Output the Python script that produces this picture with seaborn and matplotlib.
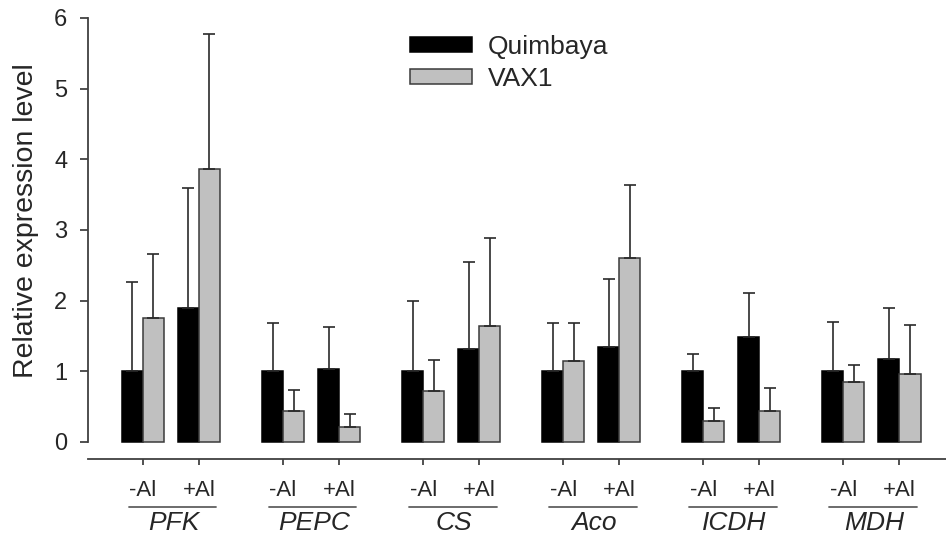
import numpy as np
import pandas as pd
import matplotlib
matplotlib.use("Agg")
import matplotlib.pyplot as plt
import seaborn as sns
from matplotlib.patches import Patch

# ---------------- data ----------------
genes = ["PFK", "PEPC", "CS", "Aco", "ICDH", "MDH"]
conditions = ["-Al", "+Al"]
cultivars = ["Quimbaya", "VAX1"]

# order: gene1 -Al, gene1 +Al, gene2 -Al, ...
quimbaya_mean = [1.00, 1.90, 1.00, 1.03, 1.00, 1.31, 1.00, 1.34, 1.00, 1.48, 1.00, 1.18]
quimbaya_err = [1.27, 1.69, 0.68, 0.60, 0.99, 1.24, 0.68, 0.96, 0.25, 0.63, 0.70, 0.71]
vax1_mean = [1.76, 3.86, 0.44, 0.21, 0.72, 1.64, 1.15, 2.60, 0.30, 0.44, 0.85, 0.96]
vax1_err = [0.90, 1.91, 0.29, 0.19, 0.44, 1.24, 0.53, 1.04, 0.18, 0.33, 0.24, 0.70]

colors = {"Quimbaya": "#000000", "VAX1": "#c0c0c0"}
edges = {"Quimbaya": "#000000", "VAX1": "#3a3a3a"}

group_gap = 2.5
pos = [gi * group_gap + ci for gi in range(len(genes)) for ci in range(len(conditions))]
cond_labels = [c for _ in genes for c in conditions]

df = pd.DataFrame({
    "pos": pos * 2,
    "value": quimbaya_mean + vax1_mean,
    "cultivar": ["Quimbaya"] * len(pos) + ["VAX1"] * len(pos),
})
errs = {"Quimbaya": quimbaya_err, "VAX1": vax1_err}

sns.set_style("ticks")
plt.rcParams["font.family"] = ["Liberation Sans", "DejaVu Sans"]

fig = plt.figure(figsize=(9.46, 5.43), dpi=100)
W, H = 946, 543
ax_left, ax_right, ax_top, ax_bottom = 88, 946, 18, 459
ax = fig.add_axes([ax_left / W, 1 - ax_bottom / H, (ax_right - ax_left) / W, (ax_bottom - ax_top) / H])

sns.barplot(data=df, x="pos", y="value", hue="cultivar", hue_order=cultivars,
            palette=colors, native_scale=True, width=0.75, errorbar=None,
            saturation=1, legend=False, ax=ax, zorder=2)

for cont, cult in zip(ax.containers, cultivars):
    xs, ys = [], []
    for bar in cont:
        bar.set_edgecolor(edges[cult])
        bar.set_linewidth(1.1)
        xs.append(bar.get_x() + bar.get_width() / 2)
        ys.append(bar.get_height())
    e = np.array(errs[cult])
    ax.errorbar(xs, ys, yerr=[np.zeros_like(e), e], fmt="none", ecolor="#2a2a2a",
                elinewidth=1.2, capsize=4.4, capthick=1.2, zorder=3)

ax.set_xlim(-0.98, 14.33)
ax.set_ylim(-0.2406, 6)
ax.set_yticks(range(0, 7))
ax.set_yticklabels([str(v) for v in range(0, 7)], fontsize=17)
ax.set_xticks(pos)
ax.set_xticklabels(cond_labels, fontsize=16)
ax.tick_params(axis="y", direction="out", length=6, width=1.2, color="#333333", pad=9)
ax.tick_params(axis="x", direction="out", length=4, width=1.2, color="#333333", pad=11)

for s in ["top", "right"]:
    ax.spines[s].set_visible(False)
ax.spines["left"].set_bounds(0, 6)
for s in ["left", "bottom"]:
    ax.spines[s].set_color("#404040")
    ax.spines[s].set_linewidth(1.3)

ax.set_xlabel("")
ax.set_ylabel("Relative expression level", fontsize=20.5)
ax.yaxis.set_label_coords(-0.057, 0.54)

trans = ax.get_xaxis_transform()
for gi, g in enumerate(genes):
    x0 = pos[2 * gi]
    x1 = pos[2 * gi + 1]
    ax.plot([x0 - 0.25, x1 + 0.31], [-0.109, -0.109], transform=trans, color="#606060",
            lw=1.3, clip_on=False)
    ax.text((x0 + x1) / 2 + 0.05, -0.146, g, transform=trans, ha="center", va="center",
            fontsize=19, style="italic")

handles = [Patch(facecolor=colors[c], edgecolor=edges[c], linewidth=1.1) for c in cultivars]
ax.legend(handles, cultivars, loc="upper left", bbox_to_anchor=(410 / W, 1 - 35 / H),
          bbox_transform=fig.transFigure, frameon=False, fontsize=19,
          handlelength=2.35, handleheight=0.5, handletextpad=0.6, labelspacing=0.3,
          borderpad=0, borderaxespad=0)

fig.savefig("out.png", dpi=100)
